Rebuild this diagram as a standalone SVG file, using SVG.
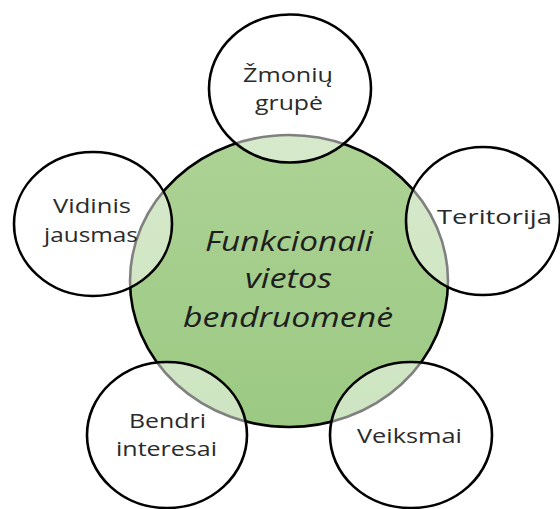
<svg xmlns="http://www.w3.org/2000/svg" width="560" height="509" viewBox="0 0 560 509">
<defs>
<linearGradient id="g" x1="0" y1="0" x2="0" y2="1">
<stop offset="0" stop-color="#add295"/>
<stop offset="1" stop-color="#9bc983"/>
</linearGradient>
<style>
.big{fill:url(#g);stroke:#000;stroke-width:2.6}
.sm{fill:#fff;fill-opacity:0.5;stroke:#000;stroke-width:2.6}
.t{font-family:"Open Sans","Noto Sans","Liberation Sans",sans-serif;font-size:20.5px;fill:#2a2a2a;text-anchor:middle}
.c{font-family:"Open Sans","Noto Sans","Liberation Sans",sans-serif;font-size:27px;font-style:italic;fill:#1e1e1e;text-anchor:middle}
</style>
</defs>
<rect width="560" height="509" fill="#fff"/>
<g id="center">
<ellipse class="big" cx="289" cy="281" rx="159" ry="146"/>
</g>
<g id="zmoniu-grupe">
<ellipse class="sm" cx="290" cy="88.5" rx="81" ry="74"/>
<text class="t" x="288" y="82" textLength="90" lengthAdjust="spacingAndGlyphs">Žmonių</text>
<text class="t" x="289" y="110" textLength="68" lengthAdjust="spacingAndGlyphs">grupė</text>
</g>
<g id="vidinis-jausmas">
<ellipse class="sm" cx="93" cy="224" rx="79" ry="72"/>
<text class="t" x="92" y="213" textLength="78" lengthAdjust="spacingAndGlyphs">Vidinis</text>
<text class="t" x="91" y="242" textLength="94" lengthAdjust="spacingAndGlyphs">jausmas</text>
</g>
<g id="teritorija">
<ellipse class="sm" cx="483" cy="221" rx="77" ry="74"/>
<text class="t" x="494.5" y="224" textLength="115" lengthAdjust="spacingAndGlyphs">Teritorija</text>
</g>
<g id="bendri-interesai">
<ellipse class="sm" cx="167" cy="435" rx="80" ry="73"/>
<text class="t" x="167.5" y="428" textLength="77" lengthAdjust="spacingAndGlyphs">Bendri</text>
<text class="t" x="166.5" y="456" textLength="101" lengthAdjust="spacingAndGlyphs">interesai</text>
</g>
<g id="veiksmai">
<ellipse class="sm" cx="411" cy="435" rx="81" ry="73"/>
<text class="t" x="409.5" y="443" textLength="105" lengthAdjust="spacingAndGlyphs">Veiksmai</text>
</g>
<g id="center-label">
<text class="c" x="289" y="251" textLength="168" lengthAdjust="spacingAndGlyphs">Funkcionali</text>
<text class="c" x="288.5" y="288" textLength="87" lengthAdjust="spacingAndGlyphs">vietos</text>
<text class="c" x="288" y="327" textLength="210" lengthAdjust="spacingAndGlyphs">bendruomenė</text>
</g>
<g id="connectors"></g>
</svg>
